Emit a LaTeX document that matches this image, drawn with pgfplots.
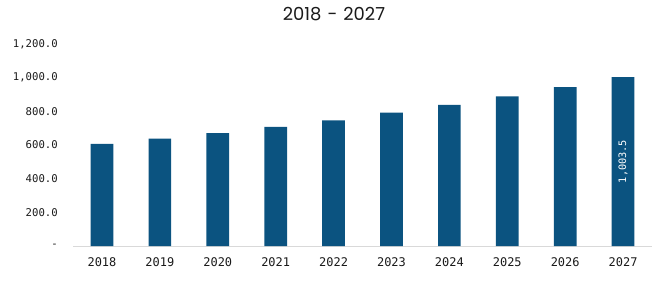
\documentclass[border=0pt]{standalone}
\usepackage{fontspec}
\setmainfont{Liberation Sans}
\newfontfamily\monofont{DejaVu Sans Mono}
\newfontfamily\titlefont{Poppins}
\usepackage{pgfplots}
\pgfplotsset{compat=1.18}
\definecolor{barblue}{HTML}{0B5380}
\definecolor{basegrey}{HTML}{D9D9D9}
\definecolor{ticktext}{HTML}{1A1A1A}
\begin{document}
\begin{tikzpicture}[x=1bp,y=1bp]
\useasboundingbox (0,0) rectangle (656,280);
\node[anchor=base, text=ticktext, inner sep=0pt, font=\titlefont\fontsize{18}{20}\selectfont] at (334,260) {2018\hspace{6bp}-\hspace{6bp}2027};
\begin{axis}[
  at={(73bp,34bp)}, anchor=south west,
  scale only axis,
  width=579bp, height=202bp,
  xmin=-0.5, xmax=9.5, ymin=0, ymax=1200,
  axis line style={draw=none},
  axis x line*=bottom,
  axis y line*=left,
  ytick={0,200,400,600,800,1000,1200},
  yticklabels={-\hspace{4bp},200.0,400.0,600.0,800.0,{1,000.0},{1,200.0}},
  xtick={0,1,2,3,4,5,6,7,8,9},
  xticklabels={2018,2019,2020,2021,2022,2023,2024,2025,2026,2027},
  major tick length=0pt,
  yticklabel style={anchor=east, inner sep=0pt, xshift=-15bp, text=ticktext, font=\monofont\fontsize{10.7}{12}\selectfont},
  xticklabel style={anchor=north, inner sep=0pt, yshift=-11bp, text=ticktext, font=\monofont\fontsize{12}{14}\selectfont},
  clip=false,
]
\draw[basegrey, line width=1bp] (axis cs:-0.5,0) -- (axis cs:9.5,0);
\addplot[ybar, bar width=22.7bp, fill=barblue, draw=none, bar shift=0pt]
  coordinates {(0,606) (1,638) (2,670) (3,707) (4,747) (5,792) (6,838) (7,889) (8,944) (9,1003.5)};
\node[rotate=90, text=white, inner sep=0pt, font=\monofont\fontsize{10.3}{12}\selectfont] at (axis cs:9,501.75) {1,003.5};
\end{axis}
\end{tikzpicture}
\end{document}
